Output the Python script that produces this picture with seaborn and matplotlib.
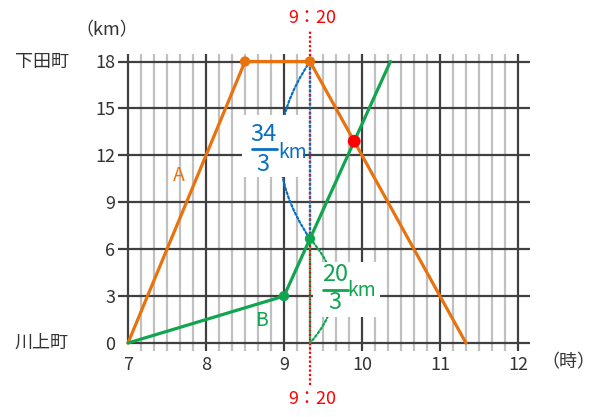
import matplotlib
matplotlib.use("Agg")
import matplotlib.pyplot as plt
import seaborn as sns
import numpy as np
from matplotlib.patches import Rectangle

# data (time in hours, distance in km)
a_time = [7, 8.5, 9.333, 11.333]
a_dist = [0, 18, 18, 0]
b_time = [7, 9, 10.364]
b_dist = [0, 3, 18]
a_dot_time = [8.5, 9.333]
a_dot_dist = [18, 18]
b_dot_time = [9, 9.333]
b_dot_dist = [3, 6.667]
meet_time = [9.9]
meet_dist = [12.9]
x_ticks = [7, 8, 9, 10, 11, 12]
y_ticks = [0, 3, 6, 9, 12, 15, 18]
mark_time = 9.333
b_at_mark = 6.667

ORANGE = "#e8730e"
GREEN = "#12a550"
BLUE = "#0a6fc2"
RED = "#ff0000"
DARK = "#404040"
GRAY = "#c0c0c0"
TXT = "#333333"

sns.set_style("white")
plt.rcParams['font.family'] = ['Noto Sans CJK JP', 'DejaVu Sans']

fig = plt.figure(figsize=(6, 4.17), dpi=100)
ax = fig.add_axes([128 / 600, 74 / 417, 390 / 600, 281.5 / 417])
ax.set_xlim(7, 12)
ax.set_ylim(0, 18)
for s in ax.spines.values():
    s.set_visible(False)

# grid: 10 minute lines, hour lines, 3 km lines
minor = [t for t in np.arange(7, 12.01, 1 / 6) if abs(t - round(t)) > 0.01]
ax.vlines(minor, -0.5, 18.5, color=GRAY, lw=1.6, clip_on=False, zorder=1)
ax.vlines(x_ticks[1:], -0.5, 18.5, color=DARK, lw=1.6, clip_on=False, zorder=2)
ax.vlines([7], 0, 18.5, color=DARK, lw=1.6, clip_on=False, zorder=2)
ax.hlines(y_ticks[1:], 6.87, 12.15, color=DARK, lw=1.6, clip_on=False, zorder=2)
ax.hlines([0], 7, 12.15, color=DARK, lw=1.6, clip_on=False, zorder=2)

ax.set_xticks(x_ticks)
ax.set_xticklabels([str(t) for t in x_ticks])
ax.set_yticks(y_ticks)
ax.set_yticklabels([str(t) for t in y_ticks])
ax.tick_params(axis='x', length=0, pad=9, labelsize=13, labelcolor=TXT)
ax.tick_params(axis='y', length=0, pad=9, labelsize=13, labelcolor=TXT)

# 9:20 lines and braces
dots = (0, (1, 1))
ax.vlines([mark_time], -2.69, 20.0, color=RED, lw=1.6, ls=dots, clip_on=False, zorder=3)
ax.vlines([mark_time], b_at_mark, 18, color=BLUE, lw=1.6, ls=dots, zorder=4)
ax.vlines([mark_time], 0, b_at_mark, color=GREEN, lw=1.6, ls=dots, zorder=4)
ax.annotate("", xy=(mark_time, b_at_mark), xytext=(mark_time, 18),
            arrowprops=dict(arrowstyle='-', connectionstyle='arc3,rad=0.34',
                            color=BLUE, lw=1.6, ls=dots, shrinkA=0, shrinkB=0),
            zorder=4)
ax.annotate("", xy=(mark_time, 0), xytext=(mark_time, b_at_mark),
            arrowprops=dict(arrowstyle='-', connectionstyle='arc3,rad=-0.45',
                            color=GREEN, lw=1.6, ls=dots, shrinkA=0, shrinkB=0),
            zorder=4)

ax.add_patch(Rectangle((8.46, 10.61), 0.78, 3.97, facecolor='white', edgecolor='none', zorder=5))
ax.add_patch(Rectangle((9.372, 1.66), 0.86, 3.52, facecolor='white', edgecolor='none', zorder=5))

sns.lineplot(x=a_time, y=a_dist, color=ORANGE, lw=2.3, sort=False, estimator=None,
             ax=ax, zorder=6, clip_on=False)
sns.lineplot(x=b_time, y=b_dist, color=GREEN, lw=2.3, sort=False, estimator=None,
             ax=ax, zorder=6, clip_on=False)
sns.scatterplot(x=a_dot_time, y=a_dot_dist, color=ORANGE, s=55, edgecolor='none',
                ax=ax, zorder=7, clip_on=False)
sns.scatterplot(x=b_dot_time, y=b_dot_dist, color=GREEN, s=55, edgecolor='none',
                ax=ax, zorder=7, clip_on=False)
sns.scatterplot(x=meet_time, y=meet_dist, color=RED, s=85, edgecolor='none',
                ax=ax, zorder=7, clip_on=False)

tk = dict(ha='center', va='center', zorder=8, clip_on=False)
ax.text(8.731, 13.36, "34", color=BLUE, fontsize=17, **tk)
ax.plot([8.59, 8.91], [12.40, 12.40], color=BLUE, lw=2, zorder=8)
ax.text(8.731, 11.44, "3", color=BLUE, fontsize=17, **tk)
ax.text(9.11, 12.2, "km", color=BLUE, fontsize=14, **tk)
ax.text(9.654, 4.35, "20", color=GREEN, fontsize=17, **tk)
ax.plot([9.50, 9.82], [3.39, 3.39], color=GREEN, lw=2, zorder=8)
ax.text(9.654, 2.56, "3", color=GREEN, fontsize=17, **tk)
ax.text(10.0, 3.37, "km", color=GREEN, fontsize=14, **tk)

ax.text(7.654, 10.74, "A", color=ORANGE, fontsize=14, **tk)
ax.text(8.718, 1.47, "B", color=GREEN, fontsize=14, **tk)

ax.text(9.36, 20.81, "9：20", color=RED, fontsize=13, **tk)
ax.text(9.36, -3.61, "9：20", color=RED, fontsize=13, **tk)
ax.text(5.55, 18, "下田町", color=TXT, fontsize=13, ha='left', va='center', clip_on=False)
ax.text(5.55, 0, "川上町", color=TXT, fontsize=13, ha='left', va='center', clip_on=False)
ax.text(6.73, 20.0, "（km）", color=TXT, fontsize=13, ha='center', va='center', clip_on=False)
ax.text(12.65, -1.22, "（時）", color=TXT, fontsize=13, ha='center', va='center', clip_on=False)

fig.savefig("out.png", dpi=100)
